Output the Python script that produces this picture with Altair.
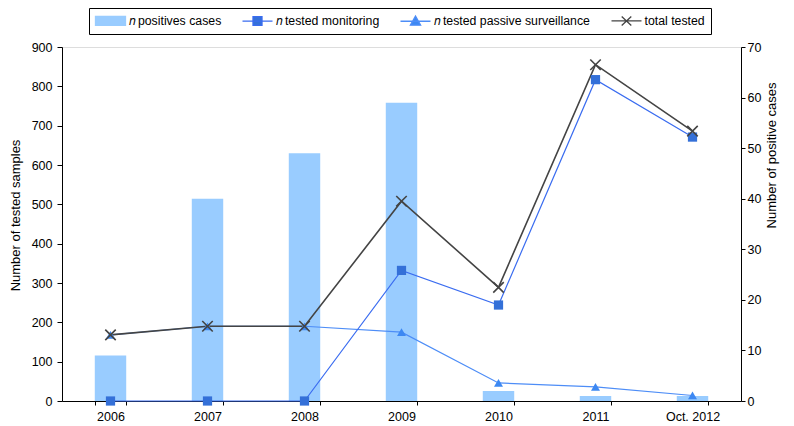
import altair as alt
import pandas as pd

# ---- data ----
categories = ["2006", "2007", "2008", "2009", "2010", "2011", "Oct. 2012"]
positives = [9, 40, 49, 59, 2, 1, 1]                 # right axis
monitoring = [0, 0, 0, 332, 244, 817, 671]           # left axis
passive = [168, 190, 190, 175, 46, 36, 14]
total = [168, 190, 190, 508, 289, 855, 686]

series_names = ["𝑛 positives cases", "𝑛 tested monitoring",
                "𝑛 tested passive surveillance", "total tested"]
left_ticks = list(range(0, 901, 100))
right_ticks = list(range(0, 71, 10))

# ---- styling ----
FONT = "Liberation Sans"
BAR = "#99CCFF"
MON_LINE = "#3A6CF0"
MON_PT = "#3470D8"
PAS_LINE = "#4D8DF7"
PAS_PT = "#3D88F2"
TOT = "#444444"

bar_df = pd.DataFrame({"cat": categories, "positives": positives})
line_df = pd.DataFrame({
    "cat": categories * 3,
    "series": ["mon"] * len(categories) + ["pas"] * len(categories) + ["tot"] * len(categories),
    "value": monitoring + passive + total,
})
legend_df = pd.DataFrame({"series": series_names})

x_enc = alt.X(
    "cat:N", sort=categories,
    scale=alt.Scale(paddingInner=0.676, paddingOuter=0.338),
    axis=alt.Axis(title=None, labelAngle=0, tickBand="extent", tickSize=4,
                  labelPadding=5, labelFontSize=12.5, labelFont=FONT,
                  labelColor="black", domainColor="black", tickColor="black",
                  grid=False),
)

y_left = alt.Y(
    "value:Q",
    scale=alt.Scale(domain=[0, 900], nice=False),
    axis=alt.Axis(orient="left", values=left_ticks, title="Number of tested samples",
                  tickSize=5, labelPadding=5, labelFontSize=12.5, labelFont=FONT,
                  labelColor="black", domainColor="black", tickColor="black",
                  grid=False, titleFont=FONT, titleFontSize=13, titleFontWeight="normal",
                  titleColor="black", titleAngle=270, titleAlign="center",
                  titleBaseline="middle", titleX=-47, titleY=168),
)

y_right = alt.Y(
    "positives:Q",
    scale=alt.Scale(domain=[0, 70], nice=False),
    axis=alt.Axis(orient="right", values=right_ticks, title="Number of positive cases",
                  tickSize=4, labelPadding=2, labelFontSize=12.5, labelFont=FONT,
                  labelColor="black", domainColor="black", tickColor="black",
                  grid=False, titleFont=FONT, titleFontSize=13, titleFontWeight="normal",
                  titleColor="black", titleAngle=270, titleAlign="center",
                  titleBaseline="middle", titleX=30, titleY=108),
)

bars = alt.Chart(bar_df).mark_bar(color=BAR).encode(x=x_enc, y=y_right)

base = alt.Chart(line_df).encode(x=x_enc, y=y_left)

mon = base.transform_filter(alt.datum.series == "mon")
pas = base.transform_filter(alt.datum.series == "pas")
tot = base.transform_filter(alt.datum.series == "tot")

mon_line = mon.mark_line(color=MON_LINE, strokeWidth=1.2)
mon_pts = mon.mark_point(shape="square", filled=True, size=85, color=MON_PT, opacity=1)
pas_line = pas.mark_line(color=PAS_LINE, strokeWidth=1.2)
pas_pts = pas.mark_point(shape="triangle-up", filled=True, size=80, color=PAS_PT, opacity=1)
tot_line = tot.mark_line(color=TOT, strokeWidth=1.6)
tot_pts = tot.mark_point(shape="M-1,-1L1,1M-1,1L1,-1", filled=False, size=110,
                         color=TOT, strokeWidth=1.6, opacity=1)

# legend symbols: line + marker drawn as custom paths (unit = 6px)
sym_paths = [
    "M-1,-0.75H4V0.75H-1Z",
    "M-1,0H4M0.75,-0.72H2.25V0.72H0.75Z",
    "M-1,0H4M1.5,-0.85L2.35,0.65H0.65Z",
    "M-1,0H4M0.7,-0.75L2.3,0.75M0.7,0.75L2.3,-0.75",
]
fill_range = [BAR, MON_PT, PAS_PT, "transparent"]
stroke_range = [BAR, MON_LINE, PAS_LINE, TOT]

def mk_legend():
    return alt.Legend(
        title=None, orient="none", legendX=27, legendY=-39, direction="horizontal",
        symbolSize=144, labelOffset=20, columnPadding=18, padding=5.5,
        strokeColor="black", fillColor="white", labelFont=FONT, labelFontSize=12.3,
        labelColor="black", symbolStrokeWidth=1.3, labelLimit=400,
    )

legend_layer = alt.Chart(legend_df).mark_point(filled=True, opacity=1).encode(
    fill=alt.Fill("series:N", sort=series_names,
                  scale=alt.Scale(domain=series_names, range=fill_range), legend=mk_legend()),
    stroke=alt.Stroke("series:N", sort=series_names,
                      scale=alt.Scale(domain=series_names, range=stroke_range), legend=mk_legend()),
    shape=alt.Shape("series:N", sort=series_names,
                    scale=alt.Scale(domain=series_names, range=sym_paths), legend=mk_legend()),
).transform_filter("false")

lines = alt.layer(pas_line, mon_line, tot_line, pas_pts, mon_pts, tot_pts, legend_layer)

chart = alt.layer(bars, lines).resolve_scale(y="independent").properties(
    width=679, height=354,
    padding={"left": 54, "top": 39, "right": 45, "bottom": 24},
    autosize=alt.AutoSizeParams(type="none"),
).configure_view(stroke=None).configure(background="white")

chart.save("out.html", embed_options={"renderer": "svg", "actions": False})
